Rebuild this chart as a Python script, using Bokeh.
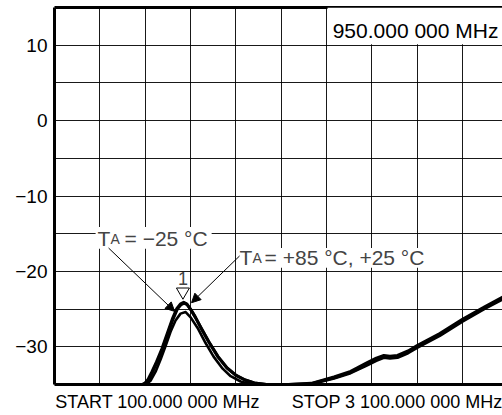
from bokeh.plotting import figure
from bokeh.models import (Range1d, LinearAxis, FixedTicker, Label, Arrow,
                          NormalHead, BoxAnnotation)
from bokeh.embed import file_html
from bokeh.resources import INLINE

FONT = "Liberation Sans"

# ---- data -------------------------------------------------------------
start_mhz = 100
stop_mhz = 3100
marker_mhz = 950
marker_text = "950.000 000 MHz"
start_text = "START 100.000 000 MHz"
stop_text = "STOP 3 100.000 000 MHz"

y_ticks = [-30, -20, -10, 0, 10]
y_tick_labels = ["\u221230", "\u221220", "\u221210", "0", "10"]
y_minor = [-35, -25, -15, -5, 5, 15]
x_grid = [100, 400, 700, 1000, 1300, 1600, 1900, 2200, 2500, 2800, 3100]

# +85 degC trace
freq_85 = [100, 680, 700, 720, 745, 775, 810, 845, 880, 910, 935, 955, 975,
           1000, 1030, 1070, 1120, 1180, 1240, 1300, 1360, 1420, 1500, 1650,
           1800, 1950, 2060, 2170, 2230, 2280, 2320, 2370, 2440, 2500, 2650,
           2800, 2950, 3100]
db_85 = [-35, -35, -34.8, -34.3, -33.3, -32.0, -30.3, -28.3, -26.3, -24.9,
         -24.3, -24.1, -24.3, -25.0, -26.0, -27.5, -29.3, -31.3, -32.8, -33.8,
         -34.4, -34.8, -35, -35, -34.9, -34.1, -33.4, -32.3, -31.7, -31.3,
         -31.4, -31.3, -30.7, -30.0, -28.4, -26.5, -24.8, -23.2]

# +25 degC trace
freq_25 = [100, 683, 703, 723, 748, 778, 813, 848, 883, 913, 938, 958, 978,
           1003, 1033, 1073, 1123, 1183, 1243, 1303, 1363, 1423, 1503, 1650,
           1800, 1950, 2060, 2170, 2230, 2280, 2320, 2370, 2440, 2500, 2650,
           2800, 2950, 3100]
db_25 = [-35, -35, -34.8, -34.4, -33.4, -32.1, -30.4, -28.4, -26.4, -25.0,
         -24.4, -24.2, -24.4, -25.1, -26.1, -27.6, -29.4, -31.3, -32.8, -33.8,
         -34.4, -34.8, -35, -35, -34.85, -34.0, -33.25, -32.1, -31.5, -31.15,
         -31.25, -31.15, -30.55, -29.85, -28.25, -26.35, -24.65, -23.05]

# -25 degC trace
freq_m25 = [100, 700, 709, 736, 769, 802, 835, 868, 901, 934, 968, 1001,
            1047, 1100, 1153, 1213, 1266, 1332, 1411, 1650, 1800, 1950, 2060,
            2170, 2230, 2280, 2320, 2370, 2440, 2500, 2650, 2800, 2950, 3100]
db_m25 = [-35, -35, -34.9, -34.5, -33.3, -31.7, -29.9, -28.0, -26.5, -25.6,
          -25.4, -26.1, -27.5, -29.5, -31.3, -32.9, -33.9, -34.6, -35, -35,
          -34.95, -34.2, -33.5, -32.45, -31.85, -31.45, -31.55, -31.45,
          -30.85, -30.15, -28.55, -26.65, -24.95, -23.35]

X_END = 3065
Y_END = 15

# ---- figure -----------------------------------------------------------
p = figure(width=502, height=415, output_backend="svg", toolbar_location=None,
           x_range=Range1d(start_mhz, X_END), y_range=Range1d(-35, Y_END),
           min_border_left=54, min_border_right=0, min_border_top=7,
           min_border_bottom=31)
p.outline_line_color = None
p.background_fill_color = "white"
p.border_fill_color = "white"

# bottom axis: only the START / STOP captions as labels
label_pos = [782, 2395]
p.xaxis.ticker = FixedTicker(ticks=label_pos)
p.xaxis.major_label_overrides = {label_pos[0]: start_text,
                                 label_pos[1]: stop_text}
p.xaxis.major_label_text_font = FONT
p.xaxis.major_label_text_font_size = "18px"
p.xaxis.major_label_text_color = "black"
p.xaxis.major_label_standoff = 7
p.xaxis.major_tick_out = 0
p.xaxis.major_tick_in = 0
p.xaxis.minor_tick_out = 0
p.xaxis.minor_tick_in = 0
p.xaxis.major_tick_line_color = None
p.xaxis.minor_tick_line_color = None
p.xaxis.axis_line_width = 3
p.xaxis.axis_line_color = "black"
p.xgrid.ticker = FixedTicker(ticks=x_grid)

p.yaxis.ticker = FixedTicker(ticks=y_ticks, minor_ticks=y_minor)
p.yaxis.major_label_overrides = dict(zip(y_ticks, y_tick_labels))
p.yaxis.major_label_text_font = FONT
p.yaxis.major_label_text_font_size = "19px"
p.yaxis.major_label_text_color = "black"
p.yaxis.major_label_standoff = 7
p.yaxis.major_tick_out = 0
p.yaxis.major_tick_in = 0
p.yaxis.minor_tick_out = 0
p.yaxis.minor_tick_in = 0
p.yaxis.major_tick_line_color = None
p.yaxis.minor_tick_line_color = None
p.yaxis.axis_line_width = 3
p.yaxis.axis_line_color = "black"

for g in (p.xgrid, p.ygrid):
    g.grid_line_color = "black"
    g.grid_line_alpha = 0.9
    g.grid_line_width = 1
p.ygrid.minor_grid_line_color = "black"
p.ygrid.minor_grid_line_alpha = 0.9

top_axis = LinearAxis(ticker=FixedTicker(ticks=[]),
                      major_label_standoff=0,
                      major_tick_out=0, major_tick_in=0,
                      minor_tick_out=0, minor_tick_in=0,
                      major_tick_line_color=None,
                      minor_tick_line_color=None,
                      axis_line_width=3, axis_line_color="black")
p.add_layout(top_axis, "above")

# ---- traces -----------------------------------------------------------
p.line(freq_85, db_85, line_width=3, color="black", line_join="round")
p.line(freq_25, db_25, line_width=3, color="black", line_join="round")
p.line(freq_m25, db_m25, line_width=2.6, color="black", line_join="round")

# ---- marker readout box ----------------------------------------------
p.add_layout(BoxAnnotation(left=1907, right=X_END, bottom=10.13, top=Y_END,
                           fill_color="white", fill_alpha=1, line_color=None))
p.add_layout(Label(x=1941, y=11.95, text=marker_text, text_font=FONT,
                   text_font_size="21px", text_color="black",
                   text_baseline="alphabetic"))

# ---- temperature annotations ----------------------------------------
p.add_layout(BoxAnnotation(left=372, right=1140, bottom=-17.0, top=-14.1,
                           fill_color="white", fill_alpha=1, line_color=None))
p.add_layout(BoxAnnotation(left=1305, right=2603, bottom=-19.5, top=-16.9,
                           fill_color="white", fill_alpha=1, line_color=None))


def sub_label(x, y, rest, rest_off):
    p.add_layout(Label(x=x, y=y, text="T", text_font=FONT,
                       text_font_size="21px", text_baseline="alphabetic"))
    p.add_layout(Label(x=x, y=y, x_offset=13, text="A", text_font=FONT,
                       text_font_size="14px", text_baseline="alphabetic"))
    p.add_layout(Label(x=x, y=y, x_offset=rest_off, text=rest,
                       text_font=FONT, text_font_size="21px",
                       text_baseline="alphabetic"))


sub_label(385, -15.7, "= \u221225 \u00b0C", 27)
sub_label(1325, -18.2, "= +85 \u00b0C, +25 \u00b0C", 25)

p.add_layout(Arrow(x_start=458, y_start=-16.9, x_end=895, y_end=-25.3,
                   line_width=1, line_color="black",
                   end=NormalHead(size=9, fill_color="black",
                                  line_color="black")))
p.add_layout(Arrow(x_start=1325, y_start=-17.95, x_end=1007, y_end=-24.15,
                   line_width=1, line_color="black",
                   end=NormalHead(size=9, fill_color="black",
                                  line_color="black")))

# ---- marker 1 ----------------------------------------------------------
p.scatter([marker_mhz], [-22.7], marker="inverted_triangle", size=13,
          fill_color="white", line_color="black", line_width=1)
p.add_layout(Label(x=marker_mhz, y=-20.9, text="1", text_font=FONT,
                   text_font_size="18px", text_align="center",
                   text_baseline="alphabetic"))

open("out.html", "w").write(file_html(p, INLINE))
